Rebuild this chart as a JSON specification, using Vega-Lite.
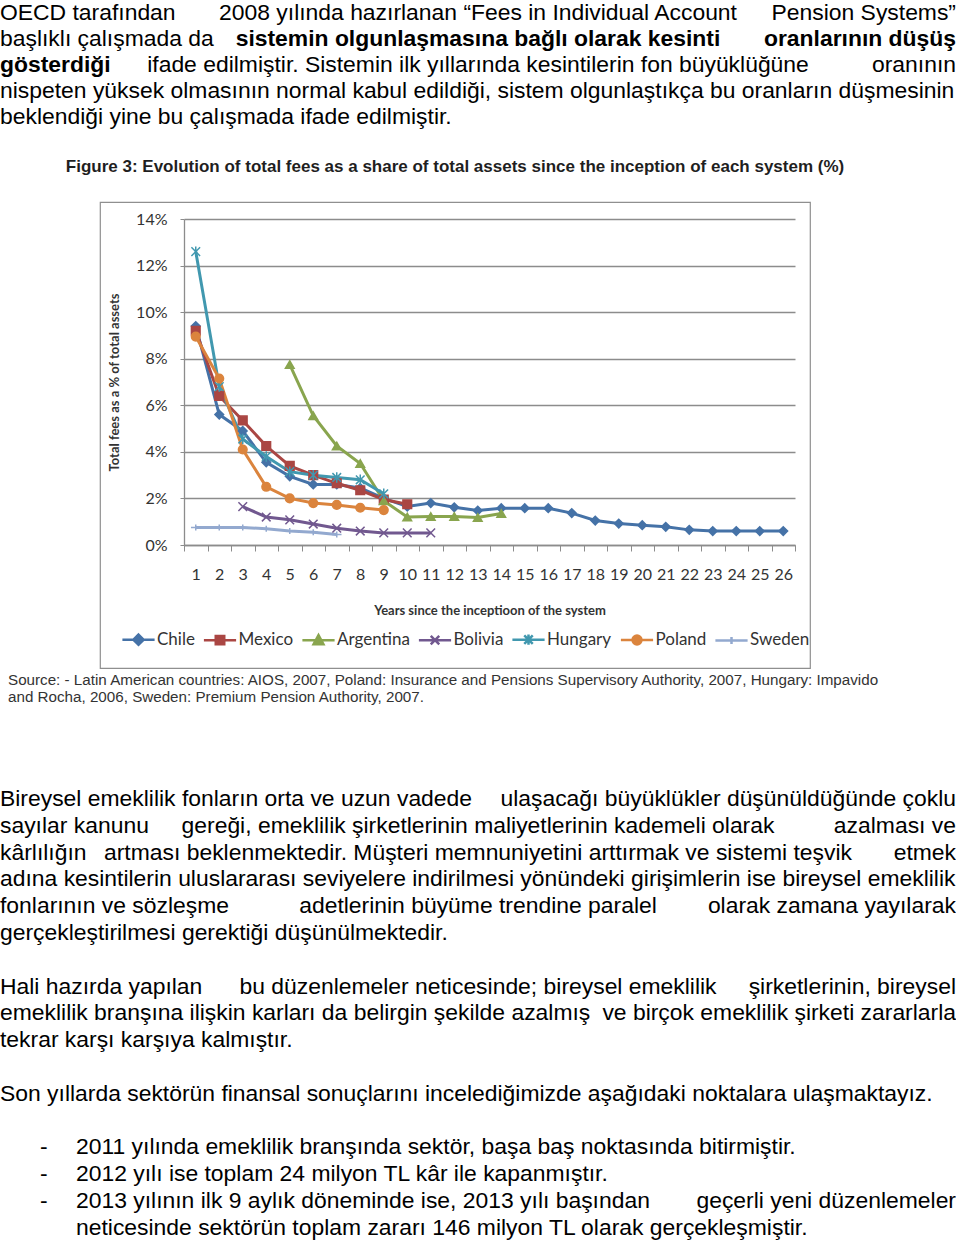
{
  "$schema": "https://vega.github.io/schema/vega-lite/v6.json",
  "padding": 0,
  "background": "white",
  "spacing": 0,
  "config": {"view": {"stroke": null}, "font": "Liberation Sans"},
  "vconcat": [
    {
      "width": 956,
      "height": 157,
      "data": {"values": [
        {"line": 0, "side": "left", "bold": false, "text": "OECD tarafından"},
        {"line": 0, "side": "center", "bold": false, "text": "2008 yılında hazırlanan “Fees in Individual Account"},
        {"line": 0, "side": "right", "bold": false, "text": "Pension Systems”"},
        {"line": 1, "side": "left", "bold": false, "text": "başlıklı çalışmada da"},
        {"line": 1, "side": "center", "bold": true, "text": "sistemin olgunlaşmasına bağlı olarak kesinti"},
        {"line": 1, "side": "right", "bold": true, "text": "oranlarının düşüş"},
        {"line": 2, "side": "left", "bold": true, "text": "gösterdiği"},
        {"line": 2, "side": "center", "bold": false, "text": "ifade edilmiştir. Sistemin ilk yıllarında kesintilerin fon büyüklüğüne"},
        {"line": 2, "side": "right", "bold": false, "text": "oranının"},
        {"line": 3, "side": "left", "bold": false, "text": "nispeten yüksek olmasının normal kabul edildiği, sistem olgunlaştıkça bu oranların düşmesinin"},
        {"line": 4, "side": "left", "bold": false, "text": "beklendiği yine bu çalışmada ifade edilmiştir."}
      ]},
      "encoding": {
        "x": {"field": "side", "type": "nominal", "scale": {"domain": ["left", "center", "right"], "padding": 0}, "axis": null},
        "y": {"field": "line", "type": "quantitative", "scale": {"domain": [-0.7692, 5.2692], "reverse": true, "nice": false, "zero": false}, "axis": null},
        "text": {"field": "text"}
      },
      "layer": [
        {"transform": [{"filter": "datum.side == 'left' && !datum.bold"}], "mark": {"type": "text", "align": "left", "baseline": "alphabetic", "font": "Liberation Sans", "fontSize": 22.9, "color": "#000"}},
        {"transform": [{"filter": "datum.side == 'left' && datum.bold"}], "mark": {"type": "text", "align": "left", "baseline": "alphabetic", "font": "Liberation Sans", "fontSize": 22.9, "fontWeight": "bold", "color": "#000"}},
        {"transform": [{"filter": "datum.side == 'center' && !datum.bold"}], "mark": {"type": "text", "align": "center", "baseline": "alphabetic", "font": "Liberation Sans", "fontSize": 22.9, "color": "#000"}},
        {"transform": [{"filter": "datum.side == 'center' && datum.bold"}], "mark": {"type": "text", "align": "center", "baseline": "alphabetic", "font": "Liberation Sans", "fontSize": 22.9, "fontWeight": "bold", "color": "#000"}},
        {"transform": [{"filter": "datum.side == 'right' && !datum.bold"}], "mark": {"type": "text", "align": "right", "baseline": "alphabetic", "font": "Liberation Sans", "fontSize": 22.9, "color": "#000"}},
        {"transform": [{"filter": "datum.side == 'right' && datum.bold"}], "mark": {"type": "text", "align": "right", "baseline": "alphabetic", "font": "Liberation Sans", "fontSize": 22.9, "fontWeight": "bold", "color": "#000"}}
      ]
    },
    {
      "spacing": 0,
      "bounds": "flush",
      "hconcat": [
        {"width": 100, "height": 466, "data": {"values": [{}]}, "mark": {"type": "text"}, "encoding": {}},
        {
          "width": 710,
          "height": 466,
          "view": {"stroke": "#8f8f8f", "strokeWidth": 1.2},
          "title": {"text": "Figure 3: Evolution of total fees as a share of total assets since the inception of each system (%)", "anchor": "middle", "font": "Liberation Sans", "fontSize": 17, "fontWeight": "bold", "color": "#1f1f1f", "offset": 26},
          "data": {"values": [
            {"country": "Chile", "year": 1, "fee": 9.4}, {"country": "Chile", "year": 2, "fee": 5.6}, {"country": "Chile", "year": 3, "fee": 4.9}, {"country": "Chile", "year": 4, "fee": 3.55}, {"country": "Chile", "year": 5, "fee": 2.95}, {"country": "Chile", "year": 6, "fee": 2.6}, {"country": "Chile", "year": 7, "fee": 2.6}, {"country": "Chile", "year": 8, "fee": 2.45}, {"country": "Chile", "year": 9, "fee": 2.0}, {"country": "Chile", "year": 10, "fee": 1.65}, {"country": "Chile", "year": 11, "fee": 1.8}, {"country": "Chile", "year": 12, "fee": 1.62}, {"country": "Chile", "year": 13, "fee": 1.48}, {"country": "Chile", "year": 14, "fee": 1.58}, {"country": "Chile", "year": 15, "fee": 1.58}, {"country": "Chile", "year": 16, "fee": 1.58}, {"country": "Chile", "year": 17, "fee": 1.37}, {"country": "Chile", "year": 18, "fee": 1.05}, {"country": "Chile", "year": 19, "fee": 0.92}, {"country": "Chile", "year": 20, "fee": 0.85}, {"country": "Chile", "year": 21, "fee": 0.78}, {"country": "Chile", "year": 22, "fee": 0.65}, {"country": "Chile", "year": 23, "fee": 0.6}, {"country": "Chile", "year": 24, "fee": 0.6}, {"country": "Chile", "year": 25, "fee": 0.6}, {"country": "Chile", "year": 26, "fee": 0.6},
            {"country": "Mexico", "year": 1, "fee": 9.2}, {"country": "Mexico", "year": 2, "fee": 6.4}, {"country": "Mexico", "year": 3, "fee": 5.35}, {"country": "Mexico", "year": 4, "fee": 4.25}, {"country": "Mexico", "year": 5, "fee": 3.4}, {"country": "Mexico", "year": 6, "fee": 3.0}, {"country": "Mexico", "year": 7, "fee": 2.65}, {"country": "Mexico", "year": 8, "fee": 2.35}, {"country": "Mexico", "year": 9, "fee": 1.95}, {"country": "Mexico", "year": 10, "fee": 1.75},
            {"country": "Argentina", "year": 5, "fee": 7.75}, {"country": "Argentina", "year": 6, "fee": 5.55}, {"country": "Argentina", "year": 7, "fee": 4.25}, {"country": "Argentina", "year": 8, "fee": 3.5}, {"country": "Argentina", "year": 9, "fee": 1.9}, {"country": "Argentina", "year": 10, "fee": 1.2}, {"country": "Argentina", "year": 11, "fee": 1.22}, {"country": "Argentina", "year": 12, "fee": 1.22}, {"country": "Argentina", "year": 13, "fee": 1.18}, {"country": "Argentina", "year": 14, "fee": 1.35},
            {"country": "Bolivia", "year": 3, "fee": 1.65}, {"country": "Bolivia", "year": 4, "fee": 1.2}, {"country": "Bolivia", "year": 5, "fee": 1.08}, {"country": "Bolivia", "year": 6, "fee": 0.9}, {"country": "Bolivia", "year": 7, "fee": 0.72}, {"country": "Bolivia", "year": 8, "fee": 0.6}, {"country": "Bolivia", "year": 9, "fee": 0.52}, {"country": "Bolivia", "year": 10, "fee": 0.52}, {"country": "Bolivia", "year": 11, "fee": 0.52},
            {"country": "Hungary", "year": 1, "fee": 12.6}, {"country": "Hungary", "year": 2, "fee": 6.8}, {"country": "Hungary", "year": 3, "fee": 4.55}, {"country": "Hungary", "year": 4, "fee": 3.8}, {"country": "Hungary", "year": 5, "fee": 3.15}, {"country": "Hungary", "year": 6, "fee": 3.0}, {"country": "Hungary", "year": 7, "fee": 2.9}, {"country": "Hungary", "year": 8, "fee": 2.8}, {"country": "Hungary", "year": 9, "fee": 2.2},
            {"country": "Poland", "year": 1, "fee": 8.95}, {"country": "Poland", "year": 2, "fee": 7.15}, {"country": "Poland", "year": 3, "fee": 4.1}, {"country": "Poland", "year": 4, "fee": 2.5}, {"country": "Poland", "year": 5, "fee": 2.0}, {"country": "Poland", "year": 6, "fee": 1.8}, {"country": "Poland", "year": 7, "fee": 1.72}, {"country": "Poland", "year": 8, "fee": 1.6}, {"country": "Poland", "year": 9, "fee": 1.5},
            {"country": "Sweden", "year": 1, "fee": 0.75}, {"country": "Sweden", "year": 2, "fee": 0.75}, {"country": "Sweden", "year": 3, "fee": 0.75}, {"country": "Sweden", "year": 4, "fee": 0.7}, {"country": "Sweden", "year": 5, "fee": 0.6}, {"country": "Sweden", "year": 6, "fee": 0.55}, {"country": "Sweden", "year": 7, "fee": 0.45}
          ]},
          "encoding": {
            "x": {"field": "year", "type": "quantitative", "scale": {"domain": [0.5, 26.5], "range": [84, 695], "nice": false, "zero": false}, "axis": null},
            "y": {"field": "fee", "type": "quantitative", "scale": {"domain": [0, 14], "range": [343, 17], "nice": false},
              "axis": {"values": [0,2,4,6,8,10,12,14], "labelExpr": "datum.value + '%'", "offset": -84, "grid": true, "gridColor": "#8c8c8c", "gridWidth": 1.3, "domainColor": "#8c8c8c", "domainWidth": 1.3, "tickColor": "#8c8c8c", "tickSize": 4, "labelPadding": 13, "labelFont": "Lato", "labelFontSize": 16, "labelColor": "#333", "title": "Total fees as a % of total assets", "titleFont": "Lato", "titleFontSize": 13, "titleFontWeight": "bold", "titleColor": "#333", "titlePadding": 14}},
            "color": {"field": "country", "type": "nominal",
              "scale": {"domain": ["Chile", "Mexico", "Argentina", "Bolivia", "Hungary", "Poland", "Sweden"], "range": ["#4572A7", "#AA4643", "#89A54E", "#71588F", "#4198AF", "#DB843D", "#93A9CF"]},
              "legend": {"title": null, "orient": "none", "legendX": 130, "legendY": 631, "direction": "horizontal", "columns": 7, "labelFont": "Lato", "labelFontSize": 17, "labelColor": "#333", "symbolSize": 80, "symbolStrokeWidth": 2.5, "symbolOpacity": 1, "labelOffset": 10, "columnPadding": 3.5}},
            "stroke": {"field": "country", "type": "nominal",
              "scale": {"domain": ["Chile", "Mexico", "Argentina", "Bolivia", "Hungary", "Poland", "Sweden"], "range": ["#4572A7", "#AA4643", "#89A54E", "#71588F", "#4198AF", "#DB843D", "#93A9CF"]},
              "legend": {"title": null, "orient": "none", "legendX": 130, "legendY": 631, "direction": "horizontal", "columns": 7, "labelFont": "Lato", "labelFontSize": 17, "labelColor": "#333", "symbolSize": 80, "symbolStrokeWidth": 2.5, "symbolOpacity": 1, "labelOffset": 10, "columnPadding": 3.5}}
          },
          "layer": [
            {
              "mark": {"type": "line", "strokeWidth": 3},
              "encoding": {
                "x": {"field": "year", "type": "quantitative",
                  "axis": {"orient": "bottom", "values": [1,2,3,4,5,6,7,8,9,10,11,12,13,14,15,16,17,18,19,20,21,22,23,24,25,26], "format": "d", "offset": -123, "ticks": false, "tickSize": 0, "domain": false, "grid": false, "labelPadding": 21, "labelFont": "Lato", "labelFontSize": 16, "labelColor": "#333", "labelOverlap": false, "labelFlush": false, "title": "Years since the inceptioon of the system", "titleFont": "Lato", "titleFontSize": 13, "titleFontWeight": "bold", "titleColor": "#333", "titlePadding": 22}}
              }
            },
            {
              "transform": [{"filter": "datum.country == 'Chile'"}],
              "mark": {"type": "point", "shape": "diamond", "filled": true, "size": 75, "strokeWidth": 1.5, "opacity": 1},
              "encoding": {
                "x": {"field": "year", "type": "quantitative",
                  "axis": {"orient": "bottom", "values": [0.5,1.5,2.5,3.5,4.5,5.5,6.5,7.5,8.5,9.5,10.5,11.5,12.5,13.5,14.5,15.5,16.5,17.5,18.5,19.5,20.5,21.5,22.5,23.5,24.5,25.5,26.5], "offset": -123, "labels": false, "ticks": true, "tickSize": 6, "tickColor": "#8c8c8c", "domain": true, "domainColor": "#8c8c8c", "domainWidth": 1.3, "grid": false, "title": null}}
              }
            },
            {"transform": [{"filter": "datum.country == 'Mexico'"}], "mark": {"type": "point", "shape": "square", "filled": true, "size": 75, "strokeWidth": 1.5, "opacity": 1}},
            {"transform": [{"filter": "datum.country == 'Argentina'"}], "mark": {"type": "point", "shape": "triangle-up", "filled": true, "size": 75, "strokeWidth": 1.5, "opacity": 1}},
            {"transform": [{"filter": "datum.country == 'Bolivia'"}], "mark": {"type": "point", "shape": "M-1,-1L1,1M-1,1L1,-1", "filled": true, "size": 75, "strokeWidth": 1.5, "opacity": 1}},
            {"transform": [{"filter": "datum.country == 'Hungary'"}], "mark": {"type": "point", "shape": "M-1,-1L1,1M-1,1L1,-1M0,-1.2L0,1.2", "filled": true, "size": 75, "strokeWidth": 1.5, "opacity": 1}},
            {"transform": [{"filter": "datum.country == 'Poland'"}], "mark": {"type": "point", "shape": "circle", "filled": true, "size": 75, "strokeWidth": 1.5, "opacity": 1}},
            {"transform": [{"filter": "datum.country == 'Sweden'"}], "mark": {"type": "point", "shape": "M-1.1,0L1.1,0M0,-0.7L0,0.7", "filled": true, "size": 75, "strokeWidth": 1.5, "opacity": 1}},
            {
              "mark": {"type": "point", "filled": true, "size": 10, "opacity": 0},
              "encoding": {
                "shape": {"field": "country", "type": "nominal",
                  "scale": {"domain": ["Chile", "Mexico", "Argentina", "Bolivia", "Hungary", "Poland", "Sweden"], "range": [
                    "M-3.6,0H3.6M0,-1.15L1.15,0L0,1.15L-1.15,0Z",
                    "M-3.6,0H3.6M-0.95,-0.95H0.95V0.95H-0.95Z",
                    "M-3.6,0H3.6M0,-1.15L1.1,0.9H-1.1Z",
                    "M-3.6,0H3.6M-0.95,-0.95L0.95,0.95M-0.95,0.95L0.95,-0.95",
                    "M-3.6,0H3.6M-0.95,-0.95L0.95,0.95M-0.95,0.95L0.95,-0.95M0,-1.15V1.15",
                    "M-3.6,0H3.6M-1,0A1,1 0 1,0 1,0A1,1 0 1,0 -1,0Z",
                    "M-3.6,0H3.6M0,-0.8V0.8"
                  ]},
                  "legend": {"title": null, "orient": "none", "legendX": 130, "legendY": 631, "direction": "horizontal", "columns": 7, "labelFont": "Lato", "labelFontSize": 17, "labelColor": "#333", "symbolSize": 80, "symbolStrokeWidth": 2.5, "symbolOpacity": 1, "labelOffset": 10, "columnPadding": 3.5}}
              }
            }
          ],
          "resolve": {"axis": {"x": "independent"}}
        }
      ]
    },
    {
      "width": 956,
      "height": 38,
      "data": {"values": [
        {"line": 0, "side": "left", "text": "Source: - Latin American countries: AIOS, 2007, Poland: Insurance and Pensions Supervisory Authority, 2007, Hungary: Impavido"},
        {"line": 1, "side": "left", "text": "and Rocha, 2006, Sweden:  Premium Pension Authority, 2007."}
      ]},
      "mark": {"type": "text", "align": "left", "baseline": "alphabetic", "font": "Liberation Sans", "fontSize": 15.2, "color": "#333", "dx": 8},
      "encoding": {
        "x": {"field": "side", "type": "nominal", "scale": {"domain": ["left", "right"], "padding": 0}, "axis": null},
        "y": {"field": "line", "type": "quantitative", "scale": {"domain": [-0.941, 1.294], "reverse": true, "nice": false, "zero": false}, "axis": null},
        "text": {"field": "text"}
      }
    },
    {
      "width": 956,
      "height": 536,
      "data": {"values": [
        {"line": 0, "side": "left", "style": "a", "text": "Bireysel emeklilik fonların orta ve uzun vadede"},
        {"line": 0, "side": "right", "style": "a", "text": "ulaşacağı büyüklükler düşünüldüğünde çoklu"},
        {"line": 1, "side": "left", "style": "a", "text": "sayılar kanunu"},
        {"line": 1, "side": "center", "style": "a", "text": "gereği, emeklilik şirketlerinin maliyetlerinin kademeli olarak"},
        {"line": 1, "side": "right", "style": "a", "text": "azalması ve"},
        {"line": 2, "side": "left", "style": "a", "text": "kârlılığın"},
        {"line": 2, "side": "center", "style": "a", "text": "artması beklenmektedir. Müşteri memnuniyetini arttırmak ve sistemi teşvik"},
        {"line": 2, "side": "right", "style": "a", "text": "etmek"},
        {"line": 3, "side": "left", "style": "a", "text": "adına kesintilerin uluslararası seviyelere indirilmesi yönündeki girişimlerin ise bireysel emeklilik"},
        {"line": 4, "side": "left", "style": "a", "text": "fonlarının ve sözleşme"},
        {"line": 4, "side": "center", "style": "a", "text": "adetlerinin büyüme trendine paralel"},
        {"line": 4, "side": "right", "style": "a", "text": "olarak zamana yayılarak"},
        {"line": 5, "side": "left", "style": "a", "text": "gerçekleştirilmesi gerektiği düşünülmektedir."},
        {"line": 7, "side": "left", "style": "a", "text": "Hali hazırda yapılan"},
        {"line": 7, "side": "center", "style": "a", "text": "bu düzenlemeler neticesinde; bireysel emeklilik"},
        {"line": 7, "side": "right", "style": "a", "text": "şirketlerinin, bireysel"},
        {"line": 8, "side": "left", "style": "a", "text": "emeklilik branşına ilişkin karları da belirgin şekilde azalmış"},
        {"line": 8, "side": "right", "style": "a", "text": "ve birçok emeklilik şirketi zararlarla"},
        {"line": 9, "side": "left", "style": "a", "text": "tekrar karşı karşıya kalmıştır."},
        {"line": 11, "side": "left", "style": "a", "text": "Son yıllarda sektörün finansal sonuçlarını incelediğimizde aşağıdaki noktalara ulaşmaktayız."},
        {"line": 13, "side": "left", "style": "d", "text": "-"},
        {"line": 14, "side": "left", "style": "d", "text": "-"},
        {"line": 15, "side": "left", "style": "d", "text": "-"},
        {"line": 13, "side": "left", "style": "i", "text": "2011 yılında emeklilik branşında sektör, başa baş noktasında bitirmiştir."},
        {"line": 14, "side": "left", "style": "i", "text": "2012 yılı ise toplam 24 milyon TL kâr ile kapanmıştır."},
        {"line": 15, "side": "left", "style": "i", "text": "2013 yılının ilk 9 aylık döneminde ise, 2013 yılı başından"},
        {"line": 15, "side": "right", "style": "a", "text": "geçerli yeni düzenlemeler"},
        {"line": 16, "side": "left", "style": "i", "text": "neticesinde sektörün toplam zararı 146 milyon TL olarak gerçekleşmiştir."}
      ]},
      "encoding": {
        "x": {"field": "side", "type": "nominal", "scale": {"domain": ["left", "center", "right"], "padding": 0}, "axis": null},
        "y": {"field": "line", "type": "quantitative", "scale": {"domain": [-3.694, 16.306], "reverse": true, "nice": false, "zero": false}, "axis": null},
        "text": {"field": "text"}
      },
      "layer": [
        {"transform": [{"filter": "datum.style == 'a' && datum.side == 'left'"}], "mark": {"type": "text", "align": "left", "baseline": "alphabetic", "font": "Liberation Sans", "fontSize": 22.9, "color": "#000"}},
        {"transform": [{"filter": "datum.style == 'a' && datum.side == 'center'"}], "mark": {"type": "text", "align": "center", "baseline": "alphabetic", "font": "Liberation Sans", "fontSize": 22.9, "color": "#000"}},
        {"transform": [{"filter": "datum.style == 'a' && datum.side == 'right'"}], "mark": {"type": "text", "align": "right", "baseline": "alphabetic", "font": "Liberation Sans", "fontSize": 22.9, "color": "#000"}},
        {"transform": [{"filter": "datum.style == 'd'"}], "mark": {"type": "text", "align": "left", "baseline": "alphabetic", "font": "Liberation Sans", "fontSize": 22.9, "color": "#000", "dx": 40}},
        {"transform": [{"filter": "datum.style == 'i'"}], "mark": {"type": "text", "align": "left", "baseline": "alphabetic", "font": "Liberation Sans", "fontSize": 22.9, "color": "#000", "dx": 76}}
      ]
    }
  ]
}
